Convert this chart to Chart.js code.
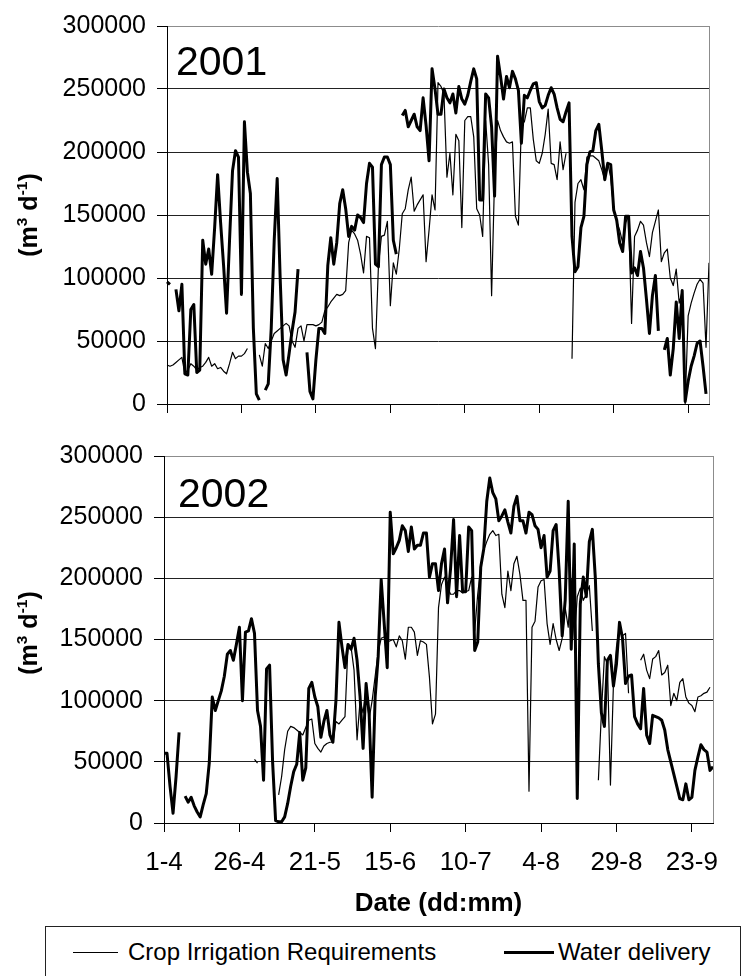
<!DOCTYPE html>
<html>
<head>
<meta charset="utf-8">
<script src="https://cdn.jsdelivr.net/npm/chart.js@4.4.1/dist/chart.umd.min.js"></script>
<style>
  html, body { margin: 0; padding: 0; background: #fff; width: 742px; height: 976px; overflow: hidden;
    font-family: "Liberation Sans", Arial, sans-serif; color: #000; }
  canvas { position: absolute; left: 0; }
  #c2001 { top: 0; }
  #c2002 { top: 430px; }
  .ytitle { position: absolute; font-weight: bold; font-size: 25px; line-height: 1; white-space: nowrap;
    transform: translate(-50%, -50%) rotate(-90deg); }
  .ytitle .sup { position: relative; top: -0.62em; font-size: 0.62em; }
  #legend { position: absolute; left: 45px; top: 926px; width: 696px; height: 70px;
    border: 1px solid #222; box-sizing: border-box; }
  #legend .swatch { position: absolute; background: #000; }
  #legend .txt { position: absolute; top: 13px; font-size: 24px; line-height: 1; white-space: nowrap; }
</style>
</head>
<body>
<canvas id="c2001" width="742" height="430"></canvas>
<canvas id="c2002" width="742" height="496"></canvas>
<div class="ytitle" style="left:28px;top:215px;">(m<span class="sup">3</span> d<span class="sup">-1</span>)</div>
<div class="ytitle" style="left:28px;top:633px;">(m<span class="sup">3</span> d<span class="sup">-1</span>)</div>
<div id="legend">
  <div class="swatch" style="left:27px;top:25px;width:45px;height:1px;"></div>
  <div class="txt" style="left:82px;">Crop Irrigation Requirements</div>
  <div class="swatch" style="left:458px;top:24px;width:50px;height:3px;"></div>
  <div class="txt" style="left:512px;">Water delivery</div>
</div>
<script>
// Daily series, 1 April to 30 September (m3 per day); null = no record
const seriesNames = ['Crop Irrigation Requirements', 'Water delivery'];
const yTicks = [0, 50000, 100000, 150000, 200000, 250000, 300000];

const cir2001 = [
  31000, 30000, 31000, 33000, 35000, 37000, 24000, 27000, 32000, 30000,
  27000, 29000, 30000, 33000, 37000, 30000, 32000, 28000, 29000, 26000,
  24000, 32000, 41000, 36000, 38000, 38000, 40000, 44000, null, null,
  null, 39000, 30000, 48000, 44000, 50000, 56000, 58000, 60000, 62000,
  64000, 62000, 50000, 45000, 60000, 62000, 50000, 63000, 63000, 63000,
  62000, 63000, 65000, 74000, 77000, 81000, 84000, 87000, 86000, 87000,
  90000, 128000, 138000, 135000, 130000, 119000, 104000, 133000, 132000, 60000,
  44000, 110000, 133000, 134000, 145000, 78000, 112000, 103000, 123000, 151000,
  155000, 170000, 180000, 153000, 158000, 162000, 166000, 113000, 138000, 166000,
  154000, 255000, 252000, 246000, 180000, 199000, 166000, 214000, 209000, 140000,
  225000, 228000, 228000, 212000, 155000, 150000, 133000, 225000, 190000, 86000,
  180000, 225000, 217000, 212000, 208000, 207000, 208000, 149000, 142000, 222000,
  224000, 235000, 235000, 210000, 193000, 191000, 199000, 214000, 234000, 191000,
  190000, 178000, 208000, 186000, 199000, null, 36000, 160000, 175000, 178000,
  170000, 196000, 197000, 197000, 195000, 193000, 186000, 178000, 191000, 180000,
  154000, 145000, 138000, 128000, 144000, 149000, 64000, 133000, 138000, 145000,
  142000, 128000, 117000, 136000, 145000, 154000, 113000, 120000, 123000, 100000,
  94000, 107000, 80000, 90000, 0, 70000, 80000, 88000, 95000, 99000,
  96000, 45000, 112000
];

const delivery2001 = [
  97000, 95000, null, 91000, 74000, 95000, 24000, 23000, 75000, 79000,
  25000, 27000, 130000, 111000, 123000, 103000, 140000, 182000, 144000, 110000,
  72000, 130000, 185000, 201000, 196000, 87000, 224000, 184000, 167000, 60000,
  8000, 3000, null, 11000, 16000, 60000, 130000, 179000, 100000, 35000,
  23000, 40000, 58000, 73000, 107000, null, null, 41000, 10000, 4000,
  35000, 60000, 60000, 56000, 110000, 132000, 111000, 128000, 159000, 170000,
  155000, 133000, 141000, 138000, 150000, 148000, 144000, 175000, 191000, 188000,
  111000, 109000, 190000, 196000, 196000, 190000, 130000, 119000, null, 229000,
  233000, 220000, 225000, 230000, 220000, 217000, 243000, 221000, 193000, 266000,
  250000, 230000, 230000, 250000, 243000, 239000, 246000, 231000, 252000, 242000,
  238000, 245000, 256000, 266000, 258000, 162000, 162000, 246000, 243000, 220000,
  165000, 276000, 260000, 242000, 260000, 251000, 264000, 258000, 249000, 207000,
  245000, 243000, 249000, 254000, 255000, 240000, 235000, 237000, 245000, 251000,
  246000, 235000, 226000, 224000, 232000, 239000, 133000, 105000, 109000, 140000,
  149000, 190000, 200000, 201000, 217000, 222000, 201000, 178000, 191000, 190000,
  154000, 146000, 128000, 121000, 149000, 149000, 104000, 108000, 102000, 121000,
  108000, 83000, 56000, 86000, 102000, 58000, null, 43000, 52000, 23000,
  44000, 81000, 52000, 90000, 2000, 18000, 30000, 38000, 48000, 50000,
  30000, 8000, null
];

const cir2002 = [
  null, null, null, null, null, null, null, null, null, null,
  null, null, null, null, null, null, null, null, null, null,
  null, null, null, null, null, null, null, null, null, null,
  52000, 49000, null, null, null, null, null, null, 23000, 38000,
  60000, 75000, 79000, 78000, 76000, 74000, 72000, 78000, 84000, 85000,
  65000, 61000, 58000, 63000, 65000, 66000, 66000, 83000, 81000, 84000,
  87000, 145000, 144000, 125000, 68000, 100000, 90000, 110000, 85000, 100000,
  120000, 140000, 151000, 152000, 148000, 149000, 150000, 144000, 153000, 149000,
  134000, 160000, 160000, 156000, 137000, 149000, 148000, 146000, 119000, 81000,
  89000, 176000, 195000, 201000, 193000, 187000, 187000, 190000, 190000, 188000,
  189000, 190000, 201000, 157000, 187000, 209000, 223000, 230000, 236000, 239000,
  235000, 236000, 187000, 176000, 206000, 190000, 212000, 218000, 203000, 182000,
  182000, 26000, 160000, 165000, 193000, 198000, 199000, 163000, 146000, 163000,
  150000, 141000, 151000, 176000, 160000, 200000, 150000, 185000, 192000, 182000,
  187000, 194000, 157000, null, 35000, 90000, 136000, 130000, 31000, 114000,
  144000, 160000, 153000, 155000, 106000, null, null, null, 133000, 138000,
  125000, 118000, 134000, 136000, 141000, 121000, 123000, 129000, 96000, 106000,
  100000, 115000, 118000, 103000, 98000, 96000, 91000, 103000, 104000, 106000,
  107000, 111000, null
];

const delivery2002 = [
  57000, 57000, 30000, 8000, 38000, 74000, null, 22000, 17000, 21000,
  14000, 9000, 5000, 15000, 24000, 49000, 103000, 92000, 100000, 108000,
  120000, 138000, 141000, 133000, 146000, 160000, 100000, 156000, 157000, 167000,
  155000, 92000, 79000, 35000, 126000, 129000, 50000, 2000, 1000, 1000,
  5000, 16000, 30000, 42000, 48000, 74000, 35000, 45000, 110000, 115000,
  103000, 95000, 70000, 83000, 92000, 72000, 66000, 100000, 164000, 144000,
  127000, 146000, 142000, 151000, 133000, 103000, 61000, 114000, 89000, 21000,
  103000, 136000, 199000, 163000, 127000, 254000, 220000, 225000, 231000, 243000,
  239000, 222000, 242000, 224000, 227000, 227000, 237000, 237000, 201000, 212000,
  212000, 190000, 212000, 224000, 180000, 208000, 248000, 185000, 235000, 189000,
  189000, 242000, 239000, 141000, 148000, 209000, 224000, 263000, 282000, 270000,
  265000, 247000, 251000, 256000, 246000, 237000, 259000, 267000, 247000, 247000,
  237000, 254000, 252000, 243000, 240000, 225000, 235000, 201000, 206000, 239000,
  244000, 206000, 153000, 182000, 263000, 142000, 228000, 20000, 179000, 201000,
  185000, 230000, 240000, 200000, 130000, 90000, 79000, 133000, 137000, 112000,
  130000, 164000, 151000, 114000, 120000, 121000, 87000, 81000, 77000, 110000,
  72000, 65000, 88000, 87000, 86000, 84000, 76000, 60000, 50000, 40000,
  30000, 20000, 19000, 32000, 19000, 21000, 43000, 54000, 64000, 60000,
  58000, 43000, 46000
];

// Day labels "d-m" for the season; every 25th day carries a tick label
const dayLabels = [];
for (let i = 0; i < cir2001.length; i++) {
  const d = new Date(2001, 3, 1 + i);
  dayLabels.push(d.getDate() + '-' + (d.getMonth() + 1));
}
const labelEvery = 25;

const FONT = '"Liberation Sans", Arial, sans-serif';

// Year caption and the grey right-hand frame of each panel
const panelDecor = {
  id: 'panelDecor',
  afterDraw(chart, args, opts) {
    const { ctx, chartArea } = chart;
    ctx.save();
    ctx.strokeStyle = '#8c8c8c';
    ctx.lineWidth = 1;
    ctx.beginPath();
    const xr = Math.round(chartArea.right) + 0.5;
    ctx.moveTo(xr, chartArea.top);
    ctx.lineTo(xr, chartArea.bottom);
    ctx.stroke();
    ctx.fillStyle = '#000';
    ctx.font = '41px ' + FONT;
    ctx.textBaseline = 'alphabetic';
    ctx.textAlign = 'left';
    ctx.fillText(opts.year, opts.x, opts.y);
    ctx.restore();
  }
};

function buildPanel(canvasId, cir, delivery, o) {
  return new Chart(document.getElementById(canvasId), {
    type: 'line',
    data: {
      labels: dayLabels,
      datasets: [
        { label: seriesNames[0], data: cir, borderColor: '#000', borderWidth: 1.2,
          pointRadius: 0, tension: 0, spanGaps: false, borderJoinStyle: 'round' },
        { label: seriesNames[1], data: delivery, borderColor: '#000', borderWidth: 3,
          pointRadius: 0, tension: 0, spanGaps: false, borderJoinStyle: 'round' }
      ]
    },
    plugins: [panelDecor],
    options: {
      responsive: false,
      animation: false,
      devicePixelRatio: 1,
      events: [],
      layout: { padding: { top: o.padTop, right: o.padRight, left: 0, bottom: 0 } },
      plugins: {
        legend: { display: false },
        tooltip: { enabled: false },
        panelDecor: { year: o.year, x: o.yearX, y: o.yearY }
      },
      scales: {
        x: {
          type: 'category',
          offset: false,
          grid: {
            drawOnChartArea: false,
            drawTicks: true,
            tickLength: 9,
            color: c => (c.index % labelEvery === 0 ? '#000' : 'rgba(0,0,0,0)'),
            tickColor: c => (c.index % labelEvery === 0 ? '#000' : 'rgba(0,0,0,0)')
          },
          border: { display: true, color: '#000', width: 1 },
          ticks: {
            display: o.showLabels,
            autoSkip: false,
            maxRotation: 0,
            minRotation: 0,
            padding: 15,
            color: '#000',
            font: { size: 26, family: FONT },
            callback: function (v, i) { return i % labelEvery === 0 ? this.getLabelForValue(v) : ''; }
          },
          title: {
            display: o.showLabels,
            text: 'Date (dd:mm)',
            color: '#000',
            font: { size: 26, weight: 'bold', family: FONT },
            padding: { top: 0, bottom: 7 }
          },
          afterFit: s => { s.height = o.xHeight; }
        },
        y: {
          min: yTicks[0],
          max: yTicks[yTicks.length - 1],
          afterBuildTicks: s => { s.ticks = yTicks.map(v => ({ value: v })); },
          ticks: {
            padding: 11,
            color: '#000',
            font: { size: 25, family: FONT },
            callback: v => String(v)
          },
          grid: {
            color: c => (c.tick && c.tick.value === 300000 ? '#8c8c8c' : '#222'),
            tickColor: '#000',
            tickLength: 10,
            drawTicks: true
          },
          border: { display: true, color: '#000', width: 1 },
          afterFit: s => { s.width = o.yWidth; }
        }
      }
    }
  });
}

buildPanel('c2001', cir2001, delivery2001, {
  padTop: 23, padRight: 33, xHeight: 26, yWidth: 167, showLabels: false,
  year: '2001', yearX: 176, yearY: 75
});
buildPanel('c2002', cir2002, delivery2002, {
  padTop: 25, padRight: 29, xHeight: 103, yWidth: 164, showLabels: true,
  year: '2002', yearX: 178, yearY: 77
});
</script>
</body>
</html>
